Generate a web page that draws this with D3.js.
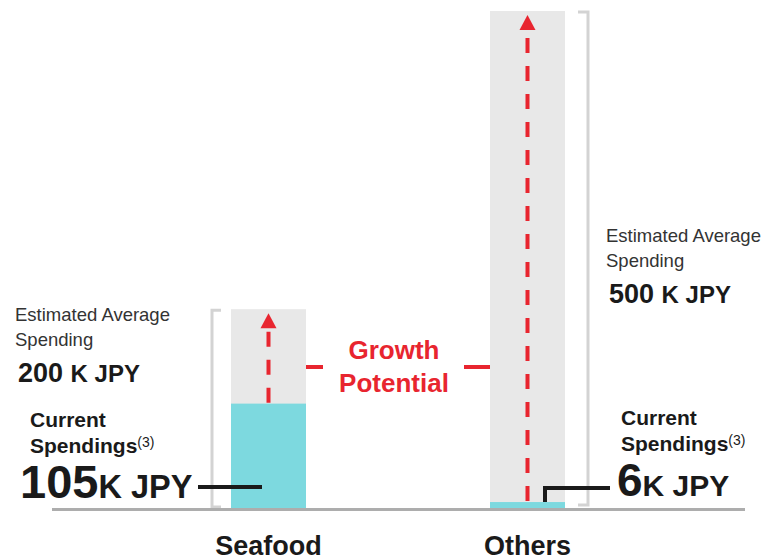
<!DOCTYPE html>
<html>
<head>
<meta charset="UTF-8">
<style>
  body { margin: 0; background: #fff; }
  text { font-family: Arial, "Liberation Sans", sans-serif; }
</style>
</head>
<body>
<script src="https://cdn.jsdelivr.net/npm/d3@7"></script>
<script>
var categories = ["Seafood", "Others"];
var estimated = [200, 500];   // K JPY
var current = [105, 6];       // K JPY

var w = 765, h = 560;
var red = "#e8252f", cyan = "#7dd9df", grey = "#e8e8e8", bracket = "#d3d3d3";
var barW = 75;

var x = d3.scalePoint().domain(categories).range([268.5, 527.5]);
var y = d3.scaleLinear().domain([0, 500]).range([508, 11]);

var svg = d3.select("body").append("svg")
  .attr("width", w).attr("height", h);

// background (estimated) bars
svg.selectAll("rect.est").data(categories).enter().append("rect")
  .attr("class", "est")
  .attr("x", d => x(d) - barW / 2)
  .attr("width", barW)
  .attr("y", (d, i) => y(estimated[i]))
  .attr("height", (d, i) => y(0) - y(estimated[i]))
  .attr("fill", grey);

// current bars
svg.selectAll("rect.cur").data(categories).enter().append("rect")
  .attr("class", "cur")
  .attr("x", d => x(d) - barW / 2)
  .attr("width", barW)
  .attr("y", (d, i) => y(current[i]))
  .attr("height", (d, i) => y(0) - y(current[i]))
  .attr("fill", cyan);

// dashed arrows
categories.forEach(function (c, i) {
  var cx = x(c), tip = y(estimated[i]) + 4;
  svg.append("line")
    .attr("x1", cx).attr("x2", cx)
    .attr("y1", y(current[i]) - 1).attr("y2", tip + 14)
    .attr("stroke", red).attr("stroke-width", 4)
    .attr("stroke-dasharray", "15,13");
  svg.append("path")
    .attr("d", `M${cx},${tip} L${cx - 8},${tip + 15} L${cx + 8},${tip + 15} Z`)
    .attr("fill", red);
});

// brackets
var b0 = x(categories[0]) - barW / 2 - 19;
svg.append("path")
  .attr("d", `M${b0 + 9},${y(estimated[0]) + 1} H${b0} V${y(0) - 1} H${b0 + 9}`)
  .attr("fill", "none").attr("stroke", bracket).attr("stroke-width", 3);
var b1 = x(categories[1]) + barW / 2 + 23;
svg.append("path")
  .attr("d", `M${b1 - 10},${y(estimated[1]) + 1} H${b1} V${y(0) - 3} H${b1 - 10}`)
  .attr("fill", "none").attr("stroke", bracket).attr("stroke-width", 3);

// baseline
svg.append("line")
  .attr("x1", 52).attr("x2", 745)
  .attr("y1", y(0) + 1.5).attr("y2", y(0) + 1.5)
  .attr("stroke", "#adadad").attr("stroke-width", 3);

// category labels
svg.selectAll("text.cat").data(categories).enter().append("text")
  .attr("class", "cat")
  .attr("x", d => x(d)).attr("y", 555)
  .attr("text-anchor", "middle")
  .attr("font-size", 27).attr("font-weight", "bold").attr("fill", "#1a1a1a")
  .text(d => d);

// growth potential
var gx = 394;
svg.append("text").attr("x", gx).attr("y", 359).attr("text-anchor", "middle")
  .attr("font-size", 26).attr("font-weight", "bold").attr("fill", red).text("Growth");
svg.append("text").attr("x", gx).attr("y", 392).attr("text-anchor", "middle")
  .attr("font-size", 26).attr("font-weight", "bold").attr("fill", red).text("Potential");
svg.append("line").attr("x1", x(categories[0]) + barW / 2).attr("x2", 323)
  .attr("y1", 367).attr("y2", 367).attr("stroke", red).attr("stroke-width", 4);
svg.append("line").attr("x1", 464).attr("x2", x(categories[1]) - barW / 2)
  .attr("y1", 367).attr("y2", 367).attr("stroke", red).attr("stroke-width", 4);

// estimated labels
function estLabel(lx, ly, val) {
  svg.append("text").attr("x", lx).attr("y", ly).attr("font-size", 18.5).attr("fill", "#333")
    .text("Estimated Average");
  svg.append("text").attr("x", lx).attr("y", ly + 25).attr("font-size", 18.5).attr("fill", "#333")
    .text("Spending");
  var t = svg.append("text").attr("x", lx + 3).attr("y", ly + 61)
    .attr("font-weight", "bold").attr("fill", "#1a1a1a");
  t.append("tspan").attr("font-size", 27).text(val + " ");
  t.append("tspan").attr("font-size", 24).text("K JPY");
}
estLabel(15, 321, estimated[0]);
estLabel(606, 242, estimated[1]);

// current labels
function curLabel(lx, ly, val, vx, bigSize, unitSize) {
  svg.append("text").attr("x", lx).attr("y", ly).attr("font-size", 21)
    .attr("font-weight", "bold").attr("fill", "#1a1a1a").text("Current");
  var s = svg.append("text").attr("x", lx).attr("y", ly + 26).attr("font-size", 21)
    .attr("font-weight", "bold").attr("fill", "#1a1a1a");
  s.append("tspan").text("Spendings");
  s.append("tspan").attr("font-size", 14).attr("font-weight", "normal")
    .attr("dy", -6).text("(3)");
  var t = svg.append("text").attr("x", vx).attr("y", ly + 71)
    .attr("font-weight", "bold").attr("fill", "#1a1a1a");
  t.append("tspan").attr("font-size", bigSize).text(val);
  t.append("tspan").attr("font-size", unitSize).text("K JPY");
}
curLabel(30, 427, current[0], 20, 47, 32.5);
curLabel(621, 425, current[1], 617, 46, 30);

// connectors
svg.append("line").attr("x1", 198).attr("x2", 262).attr("y1", 487).attr("y2", 487)
  .attr("stroke", "#1a1a1a").attr("stroke-width", 4);
svg.append("path")
  .attr("d", `M545,${y(current[1])} V488 H610`)
  .attr("fill", "none").attr("stroke", "#1a1a1a").attr("stroke-width", 4);
</script>
</body>
</html>
